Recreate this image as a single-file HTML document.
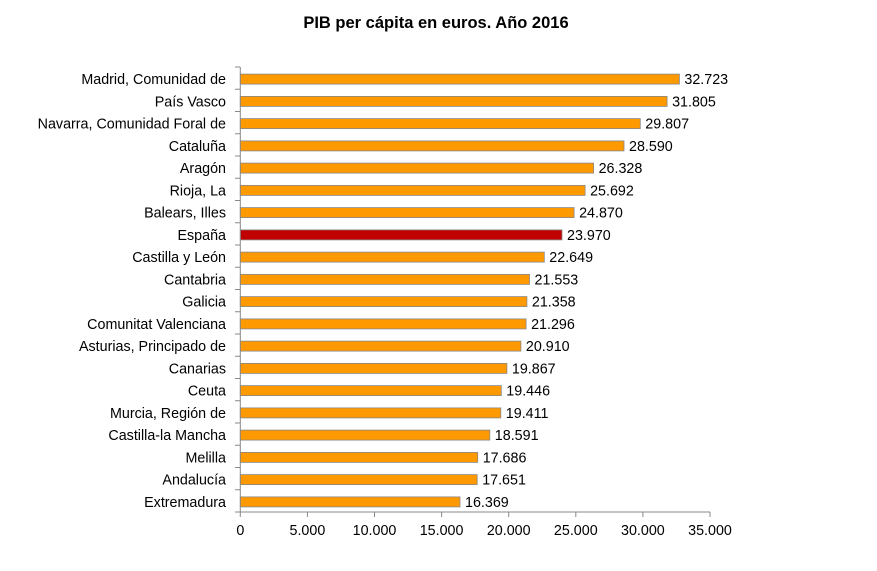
<!DOCTYPE html>
<html><head><meta charset="utf-8"><style>body{margin:0;background:#fff}svg{display:block}text{font-family:"Liberation Sans",Arial,sans-serif;font-size:14.3px}</style></head><body>
<svg width="877" height="571" xmlns="http://www.w3.org/2000/svg">
<text x="436" y="28" style="font-size:16.5px;font-weight:bold" text-anchor="middle">PIB per cápita en euros. Año 2016</text>
<g stroke="#888" stroke-width="0.8">
<rect x="240.3" y="74.1" width="439.1" height="10" fill="#ff9900"/>
<rect x="240.3" y="96.4" width="426.8" height="10" fill="#ff9900"/>
<rect x="240.3" y="118.6" width="400.0" height="10" fill="#ff9900"/>
<rect x="240.3" y="140.9" width="383.7" height="10" fill="#ff9900"/>
<rect x="240.3" y="163.1" width="353.3" height="10" fill="#ff9900"/>
<rect x="240.3" y="185.4" width="344.8" height="10" fill="#ff9900"/>
<rect x="240.3" y="207.6" width="333.8" height="10" fill="#ff9900"/>
<rect x="240.3" y="229.9" width="321.7" height="10" fill="#c00000"/>
<rect x="240.3" y="252.1" width="304.0" height="10" fill="#ff9900"/>
<rect x="240.3" y="274.4" width="289.2" height="10" fill="#ff9900"/>
<rect x="240.3" y="296.6" width="286.6" height="10" fill="#ff9900"/>
<rect x="240.3" y="318.9" width="285.8" height="10" fill="#ff9900"/>
<rect x="240.3" y="341.1" width="280.6" height="10" fill="#ff9900"/>
<rect x="240.3" y="363.4" width="266.6" height="10" fill="#ff9900"/>
<rect x="240.3" y="385.6" width="261.0" height="10" fill="#ff9900"/>
<rect x="240.3" y="407.9" width="260.5" height="10" fill="#ff9900"/>
<rect x="240.3" y="430.1" width="249.5" height="10" fill="#ff9900"/>
<rect x="240.3" y="452.4" width="237.4" height="10" fill="#ff9900"/>
<rect x="240.3" y="474.6" width="236.9" height="10" fill="#ff9900"/>
<rect x="240.3" y="496.9" width="219.7" height="10" fill="#ff9900"/>
</g>
<g stroke="#888" stroke-width="1">
<line x1="240.3" y1="67" x2="240.3" y2="512"/>
<line x1="240.3" y1="512" x2="710" y2="512"/>
<path d="M235 67H240M235 89.25H240M235 111.5H240M235 133.75H240M235 156H240M235 178.25H240M235 200.5H240M235 222.75H240M235 245H240M235 267.25H240M235 289.5H240M235 311.75H240M235 334H240M235 356.25H240M235 378.5H240M235 400.75H240M235 423H240M235 445.25H240M235 467.5H240M235 489.75H240M235 512H240"/>
<path d="M240.3 512V517M307.4 512V517M374.5 512V517M441.6 512V517M508.7 512V517M575.8 512V517M642.9 512V517M710 512V517"/>
</g>
<g text-anchor="end">
<text x="226" y="84">Madrid, Comunidad de</text>
<text x="226" y="106.3">País Vasco</text>
<text x="226" y="128.5">Navarra, Comunidad Foral de</text>
<text x="226" y="150.8">Cataluña</text>
<text x="226" y="173">Aragón</text>
<text x="226" y="195.3">Rioja, La</text>
<text x="226" y="217.5">Balears, Illes</text>
<text x="226" y="239.8">España</text>
<text x="226" y="262">Castilla y León</text>
<text x="226" y="284.3">Cantabria</text>
<text x="226" y="306.5">Galicia</text>
<text x="226" y="328.8">Comunitat Valenciana</text>
<text x="226" y="351">Asturias, Principado de</text>
<text x="226" y="373.3">Canarias</text>
<text x="226" y="395.5">Ceuta</text>
<text x="226" y="417.8">Murcia, Región de</text>
<text x="226" y="440">Castilla-la Mancha</text>
<text x="226" y="462.3">Melilla</text>
<text x="226" y="484.5">Andalucía</text>
<text x="226" y="506.8">Extremadura</text>
</g>
<g>
<text x="684.4" y="84">32.723</text>
<text x="672.1" y="106.3">31.805</text>
<text x="645.3" y="128.5">29.807</text>
<text x="629.0" y="150.8">28.590</text>
<text x="598.6" y="173">26.328</text>
<text x="590.1" y="195.3">25.692</text>
<text x="579.1" y="217.5">24.870</text>
<text x="567.0" y="239.8">23.970</text>
<text x="549.3" y="262">22.649</text>
<text x="534.5" y="284.3">21.553</text>
<text x="531.9" y="306.5">21.358</text>
<text x="531.1" y="328.8">21.296</text>
<text x="525.9" y="351">20.910</text>
<text x="511.9" y="373.3">19.867</text>
<text x="506.3" y="395.5">19.446</text>
<text x="505.8" y="417.8">19.411</text>
<text x="494.8" y="440">18.591</text>
<text x="482.7" y="462.3">17.686</text>
<text x="482.2" y="484.5">17.651</text>
<text x="465.0" y="506.8">16.369</text>
</g>
<g text-anchor="middle">
<text x="240.3" y="535">0</text>
<text x="307.4" y="535">5.000</text>
<text x="374.5" y="535">10.000</text>
<text x="441.6" y="535">15.000</text>
<text x="508.7" y="535">20.000</text>
<text x="575.8" y="535">25.000</text>
<text x="642.9" y="535">30.000</text>
<text x="710" y="535">35.000</text>
</g>
</svg></body></html>
